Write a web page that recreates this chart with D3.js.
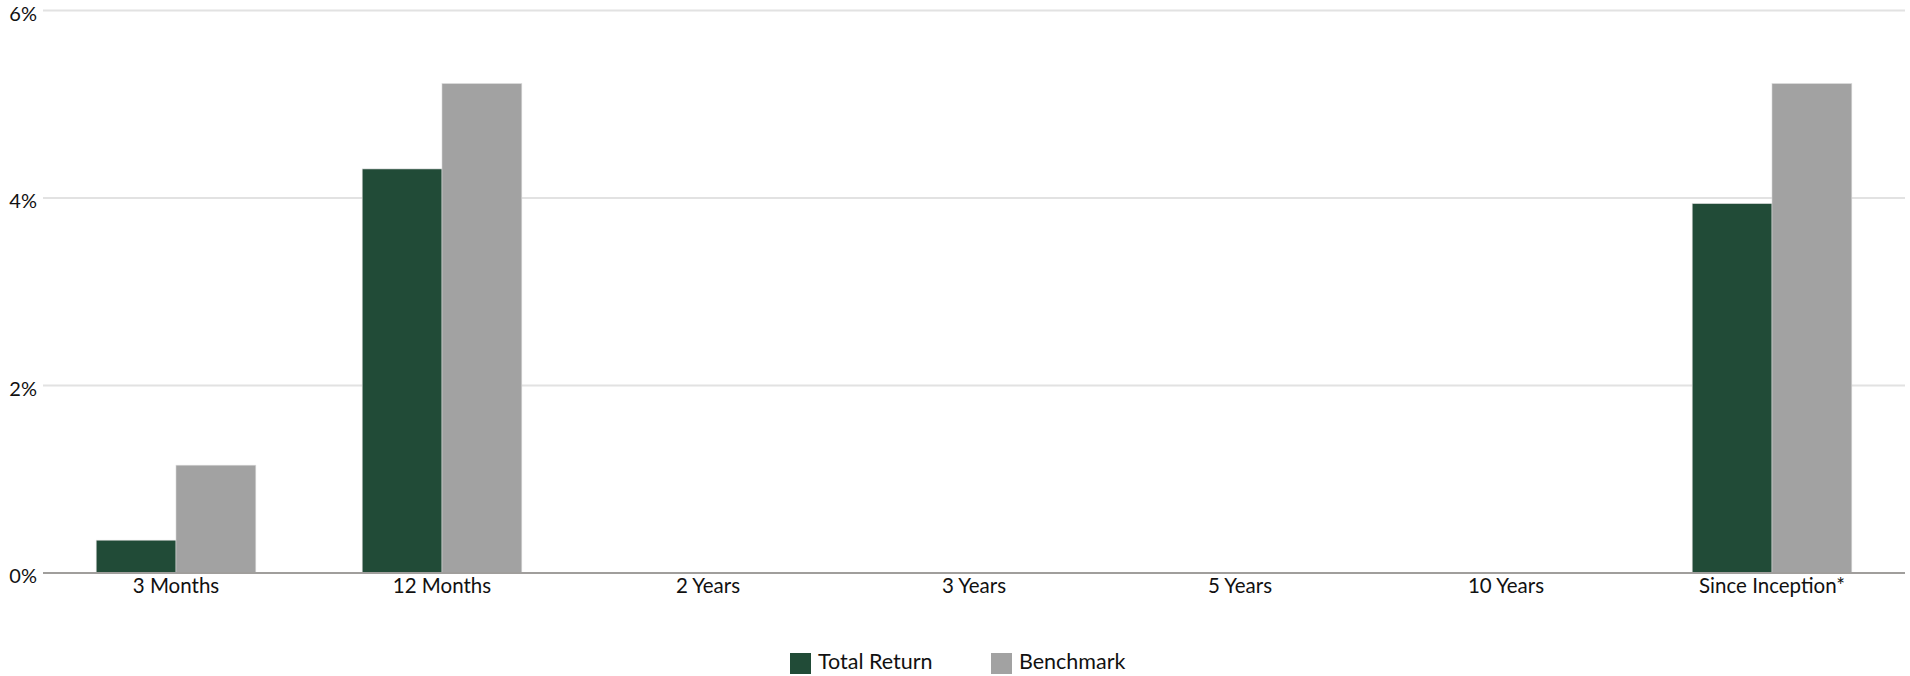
<!DOCTYPE html>
<html>
<head>
<meta charset="utf-8">
<script src="https://cdn.jsdelivr.net/npm/d3@7"></script>
<style>
  html, body { margin: 0; padding: 0; background: #fff; }
  svg { display: block; }
</style>
</head>
<body>
<svg></svg>
<script>
// chart data
var categories = ["3 Months", "12 Months", "2 Years", "3 Years", "5 Years", "10 Years", "Since Inception*"];
var totalReturn = [0.35, 4.31, null, null, null, null, 3.94];
var benchmark = [1.15, 5.22, null, null, null, null, 5.22];
var seriesNames = ["Total Return", "Benchmark"];
var seriesColors = ["#214b37", "#a2a2a2"];
var yTicks = [0, 2, 4, 6];

var width = 1910,
    height = 676;
var margin = { top: 10.5, right: 5, bottom: 103, left: 43 };
var innerW = width - margin.left - margin.right,
    innerH = height - margin.top - margin.bottom;

var font = "Lato, 'Open Sans', sans-serif";

var svg = d3.select("svg")
    .attr("width", width)
    .attr("height", height);

var g = svg.append("g")
    .attr("transform", "translate(" + margin.left + "," + margin.top + ")");

var x = d3.scaleBand()
    .domain(categories)
    .range([0, innerW])
    .paddingInner(0.4)
    .paddingOuter(0.2);

var xSub = d3.scaleBand()
    .domain(seriesNames)
    .range([0, x.bandwidth()]);

var y = d3.scaleLinear()
    .domain([0, 6])
    .range([innerH, 0]);

// gridlines
g.append("g")
    .selectAll("line")
    .data(yTicks.filter(function(t) { return t > 0; }))
    .enter()
    .append("line")
    .attr("x1", 0)
    .attr("x2", innerW)
    .attr("y1", function(d) { return y(d); })
    .attr("y2", function(d) { return y(d); })
    .attr("stroke", "#e2e2e2")
    .attr("stroke-width", 2);

// y axis labels
g.append("g")
    .selectAll("text")
    .data(yTicks)
    .enter()
    .append("text")
    .attr("x", -6)
    .attr("y", function(d) { return y(d) + 5; })
    .attr("text-anchor", "end")
    .attr("dominant-baseline", "middle")
    .attr("font-family", font)
    .attr("font-size", 20)
    .attr("fill", "#111")
    .text(function(d) { return d + "%"; });

// bars
var rows = categories.map(function(c, i) {
    return { cat: c, values: [totalReturn[i], benchmark[i]] };
});

var groups = g.append("g")
    .selectAll("g")
    .data(rows)
    .enter()
    .append("g")
    .attr("transform", function(d) { return "translate(" + x(d.cat) + ",0)"; });

groups.selectAll("rect")
    .data(function(d) {
        return d.values.map(function(v, j) { return { key: seriesNames[j], value: v, color: seriesColors[j] }; })
            .filter(function(e) { return e.value != null; });
    })
    .enter()
    .append("rect")
    .attr("x", function(d) { return xSub(d.key); })
    .attr("width", xSub.bandwidth())
    .attr("y", function(d) { return y(d.value); })
    .attr("height", function(d) { return y(0) - y(d.value); })
    .attr("fill", function(d) { return d.color; })
    .attr("stroke", "#d8d8d8")
    .attr("stroke-width", 0.6);

// baseline
g.append("line")
    .attr("x1", 0)
    .attr("x2", innerW)
    .attr("y1", y(0))
    .attr("y2", y(0))
    .attr("stroke", "#a09e9c")
    .attr("stroke-width", 2);

// category labels
g.append("g")
    .selectAll("text")
    .data(categories)
    .enter()
    .append("text")
    .attr("x", function(d) { return x(d) + x.bandwidth() / 2; })
    .attr("y", y(0) + 15)
    .attr("text-anchor", "middle")
    .attr("dominant-baseline", "middle")
    .attr("font-family", font)
    .attr("font-size", 20.5)
    .attr("fill", "#111")
    .text(function(d) { return d; });

// legend
var legendX = [790, 991];
var legend = svg.append("g")
    .selectAll("g")
    .data(seriesNames)
    .enter()
    .append("g")
    .attr("transform", function(d, i) { return "translate(" + legendX[i] + ",653)"; });

legend.append("rect")
    .attr("width", 21)
    .attr("height", 21)
    .attr("fill", function(d, i) { return seriesColors[i]; });

legend.append("text")
    .attr("x", 28)
    .attr("y", 11)
    .attr("dominant-baseline", "middle")
    .attr("font-family", font)
    .attr("font-size", 21.5)
    .attr("fill", "#111")
    .text(function(d) { return d; });
</script>
</body>
</html>
